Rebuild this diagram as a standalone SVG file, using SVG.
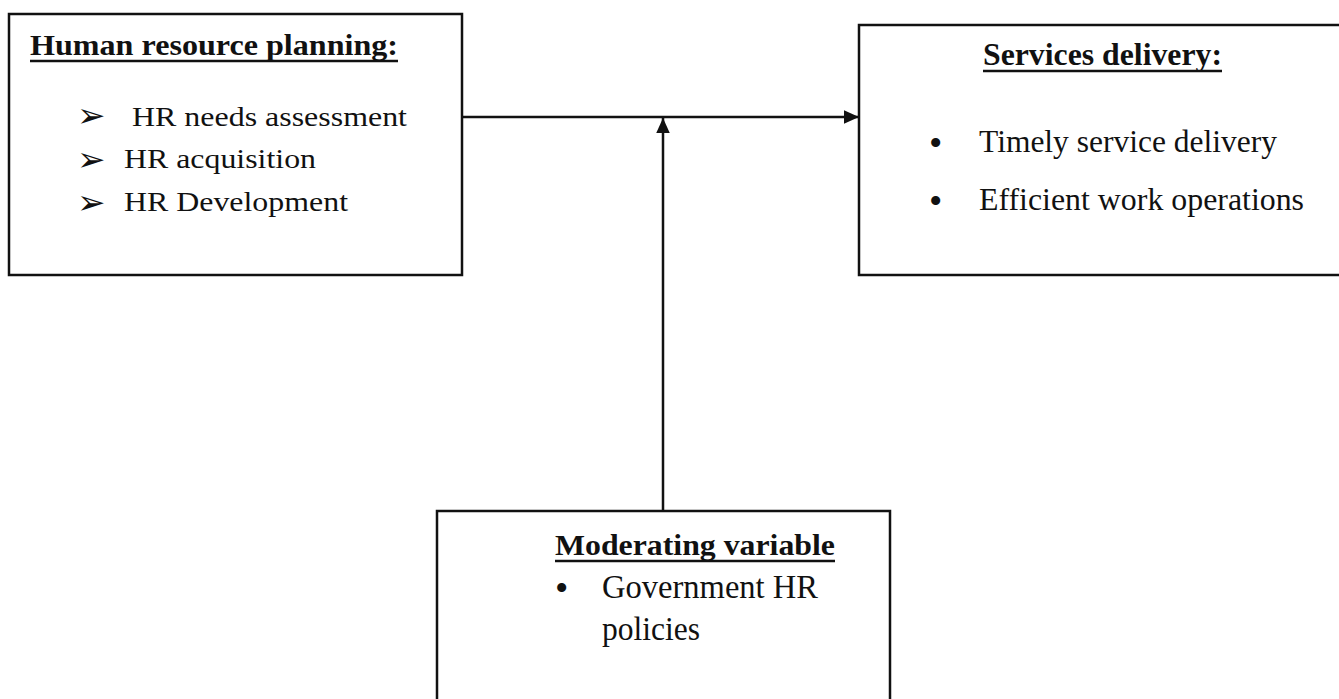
<svg xmlns="http://www.w3.org/2000/svg" width="1339" height="699" viewBox="0 0 1339 699">
<defs>
<style>
.box{fill:#fff;stroke:#111;stroke-width:2.5}
.t{font-family:"Liberation Serif","Times New Roman",serif;fill:#111}
.b{font-weight:bold}
.u{stroke:#111;stroke-width:2.5}
.ln{stroke:#111;stroke-width:2.5;fill:none}
.ar{font-family:"DejaVu Sans",sans-serif;font-size:34px;fill:#111}
</style>
<marker id="ah" viewBox="0 0 10 10" refX="10" refY="5" markerWidth="15" markerHeight="15" markerUnits="userSpaceOnUse" orient="auto">
<path d="M0,0.5 L10,5 L0,9.5 z" fill="#111"/>
</marker>
</defs>
<rect width="1339" height="699" fill="#fff"/>
<g id="connectors">
<line class="ln" x1="462" y1="117" x2="859" y2="117" marker-end="url(#ah)"/>
<line class="ln" x1="663" y1="511" x2="663" y2="118" marker-end="url(#ah)"/>
</g>
<g id="hrp">
<rect class="box" x="9" y="14" width="453" height="261"/>
<text class="t b" x="30" y="55" font-size="30" textLength="368" lengthAdjust="spacingAndGlyphs">Human resource planning:</text>
<line class="u" x1="30" y1="61" x2="398" y2="61"/>
<text class="ar" x="77" y="127">➢</text>
<text class="t" x="132" y="126" font-size="27" textLength="275" lengthAdjust="spacingAndGlyphs">HR needs assessment</text>
<text class="ar" x="77" y="171">➢</text>
<text class="t" x="124" y="168" font-size="27" textLength="192" lengthAdjust="spacingAndGlyphs">HR acquisition</text>
<text class="ar" x="77" y="214">➢</text>
<text class="t" x="124" y="211" font-size="27" textLength="224" lengthAdjust="spacingAndGlyphs">HR Development</text>
</g>
<g id="services">
<rect class="box" x="859" y="25" width="490" height="250"/>
<text class="t b" x="983" y="65" font-size="31" textLength="239" lengthAdjust="spacingAndGlyphs">Services delivery:</text>
<line class="u" x1="983" y1="71" x2="1222" y2="71"/>
<text class="t" x="929" y="156" font-size="38">•</text>
<text class="t" x="979" y="152" font-size="31" textLength="298" lengthAdjust="spacingAndGlyphs">Timely service delivery</text>
<text class="t" x="929" y="214" font-size="38">•</text>
<text class="t" x="979" y="210" font-size="31" textLength="325" lengthAdjust="spacingAndGlyphs">Efficient work operations</text>
</g>
<g id="moderating">
<rect class="box" x="437" y="511" width="453" height="200"/>
<text class="t b" x="555" y="555" font-size="30" textLength="280" lengthAdjust="spacingAndGlyphs">Moderating variable</text>
<line class="u" x1="555" y1="561" x2="835" y2="561"/>
<text class="t" x="555" y="601" font-size="38">•</text>
<text class="t" x="602" y="598" font-size="33" textLength="216" lengthAdjust="spacingAndGlyphs">Government  HR</text>
<text class="t" x="602" y="640" font-size="33" textLength="98" lengthAdjust="spacingAndGlyphs">policies</text>
</g>
</svg>
